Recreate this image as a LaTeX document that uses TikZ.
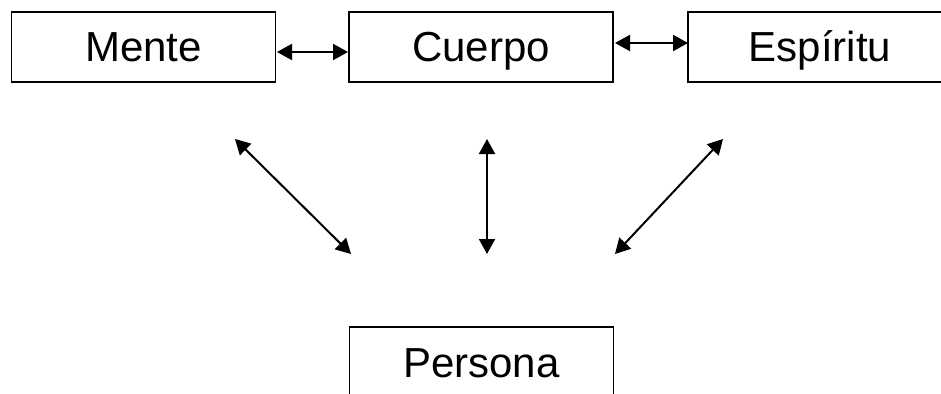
\documentclass[tikz,border=0pt]{standalone}
\usepackage{fontspec}
\setmainfont{Liberation Sans}
\usetikzlibrary{arrows.meta}
\begin{document}
\begin{tikzpicture}[x=1pt,y=-1pt,
  box/.style={draw, line width=1.3pt, minimum width=264pt, minimum height=70pt, inner sep=0pt, text height=30pt, text depth=0pt, font=\fontsize{42}{50}\selectfont},
  link/.style={line width=2pt, {Triangle[length=15pt,width=16pt]}-{Triangle[length=15pt,width=16pt]}}]
\useasboundingbox[fill=white] (0,0) rectangle (941,393);
\node[box] (mente) at (143.5,47) {Mente};
\node[box] (cuerpo) at (481,47) {Cuerpo};
\node[box] (espiritu) at (820,47) {Espíritu};
\node[box] (persona) at (481.5,362) {Persona};
\coordinate (m1) at (277,52);
\coordinate (m2) at (348,52);
\coordinate (e1) at (615,43);
\coordinate (e2) at (688,43);
\coordinate (a1) at (235,139);
\coordinate (a2) at (351,254);
\coordinate (b1) at (487,139);
\coordinate (b2) at (487,254);
\coordinate (c1) at (723,139);
\coordinate (c2) at (615,254);
\draw[link] (m1) -- (m2);
\draw[link] (e1) -- (e2);
\draw[link] (a1) -- (a2);
\draw[link] (b1) -- (b2);
\draw[link] (c1) -- (c2);
\end{tikzpicture}
\end{document}
